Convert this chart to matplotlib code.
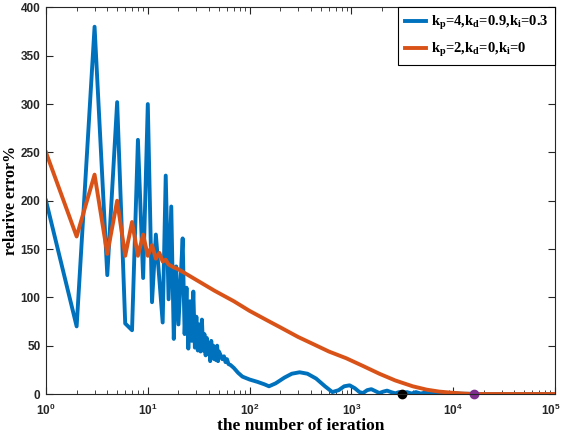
import numpy as np
import matplotlib
matplotlib.use("Agg")
import matplotlib.pyplot as plt
import matplotlib.transforms as mtransforms
from matplotlib.ticker import FixedLocator, LogLocator, NullFormatter

# mathtext: bold serif for legend subscripts, bold sans for tick exponents
plt.rcParams['mathtext.fontset'] = 'custom'
plt.rcParams['mathtext.rm'] = 'Liberation Serif:bold'
plt.rcParams['mathtext.it'] = 'Liberation Serif:bold'
plt.rcParams['mathtext.bf'] = 'Liberation Serif:bold'
plt.rcParams['mathtext.sf'] = 'Liberation Sans:bold'

# relative error, PID gains kp=4, kd=0.9, ki=0.3
blue_n = [1, 2, 3, 4, 5, 6, 7, 8, 9, 10, 11, 12, 13, 14, 15, 16, 17, 18, 19, 20,
          21, 22, 23, 24, 25, 26, 27, 28, 29, 30, 31, 32, 33, 34, 35, 36, 37, 38,
          39, 40, 41, 42, 43, 44, 45, 46, 47, 48, 49, 50, 52, 54, 56, 58, 60,
          62, 65, 70, 77, 85, 100, 120, 140, 155, 180, 220, 260, 310, 370, 450,
          550, 650, 750, 850, 960, 1080, 1200, 1300, 1430, 1570, 1720, 1880,
          2060, 2240, 2450, 2700, 2950, 3200, 3500, 3900, 4300, 4800, 5300,
          5900, 6500, 7200, 8000, 9000, 10000, 12000, 15000, 20000, 100000]
blue_v = [200, 70, 380, 123, 302, 73, 66, 263, 120, 300, 95, 165, 118, 74, 226,
          98, 194, 57, 132, 72, 118, 161, 62, 110, 47, 96, 55, 106, 48, 80, 45,
          72, 44, 77, 45, 62, 40, 58, 42, 52, 34, 55, 38, 50, 36, 48, 35, 50, 34,
          44, 40, 36, 39, 33, 36, 31, 30, 27, 22, 18, 15, 12.5, 10, 8, 11, 17,
          21, 22.5, 21, 16, 8, 2, 4, 8, 9, 6, 2, 1, 4, 5, 3, 1, 2.5, 3.5, 2,
          0.7, 2, 0.5, 2, 0.5, 2, 0.5, 1.5, 0.5, 1.2, 0.5, 1, 0.5, 0.8, 0.3,
          0.2, 0, 0]

# relative error, kp=2, kd=0, ki=0
orange_n = [1, 2, 3, 4, 5, 6, 7, 8, 9, 10, 11, 12, 13, 14, 15, 16, 18, 20, 30,
            45, 70, 100, 150, 200, 300, 415, 600, 890, 1300, 1880, 2700, 4000,
            5500, 7300, 10000, 13000, 16000, 100000]
orange_v = [250, 163, 227, 145, 200, 143, 178, 143, 165, 143, 154, 140, 146, 137,
            139, 134, 131, 129, 118, 107, 96, 86, 76, 69, 59, 52, 44, 37, 29,
            21, 14, 8, 4.5, 2.5, 1.2, 0.4, 0, 0]

# convergence points
conv_n = [3160, 16000]
conv_v = [0, 0]

fig = plt.figure(figsize=(5.63, 4.36), dpi=100)
ax = fig.add_axes([0.0817, 0.0963, 0.9041, 0.8867])

ax.semilogx(blue_n, blue_v, color='#0072BD', linewidth=2.8,
            label=r'k$_\mathrm{p}$=4,k$_\mathrm{d}$=0.9,k$_\mathrm{i}$=0.3')
ax.semilogx(orange_n, orange_v, color='#D95319', linewidth=2.8,
            label=r'k$_\mathrm{p}$=2,k$_\mathrm{d}$=0,k$_\mathrm{i}$=0')
ax.plot(conv_n[0], conv_v[0], 'o', color='black', markersize=6, clip_on=False)
ax.plot(conv_n[1], conv_v[1], 'o', color='#7E2F8E', markersize=6, clip_on=False)

ax.set_xlim(1, 1e5)
ax.set_ylim(0, 400)
ax.yaxis.set_major_locator(FixedLocator(range(0, 401, 50)))
ax.xaxis.set_major_locator(FixedLocator([1, 10, 100, 1e3, 1e4, 1e5]))
ax.xaxis.set_minor_locator(LogLocator(base=10, subs=np.arange(2, 10), numticks=20))
ax.xaxis.set_minor_formatter(NullFormatter())
ax.set_xticklabels([r'$\mathsf{10^{%d}}$' % k for k in range(6)])

ax.tick_params(which='both', direction='in', top=True, right=True,
               colors='#262626', labelsize=8.5)
ax.tick_params(which='major', length=5, width=0.8)
ax.tick_params(which='minor', length=3, width=0.6)
ax.tick_params(axis='y', pad=4)
ax.tick_params(axis='x', pad=6)
for lab in ax.get_yticklabels():
    lab.set_fontfamily('Liberation Sans')
    lab.set_fontweight('bold')
for sp in ax.spines.values():
    sp.set_color('#262626')
    sp.set_linewidth(0.8)

# pull the last x tick label in so it stays on the canvas
last = ax.get_xticklabels()[-1]
last.set_transform(last.get_transform() +
                   mtransforms.ScaledTranslation(-4 / 100, 0, fig.dpi_scale_trans))

ax.set_xlabel('the number of ieration', family='Liberation Serif',
              fontweight='bold', fontsize=12.5, labelpad=0)
ax.set_ylabel('relarive error%', family='Liberation Serif',
              fontweight='bold', fontsize=11.5, labelpad=1)

leg = ax.legend(loc='upper right', borderaxespad=0, fancybox=False,
                framealpha=1, edgecolor='black', handlelength=1.5,
                handletextpad=0.3, borderpad=0.45, labelspacing=0.6,
                prop={'family': 'Liberation Serif', 'weight': 'bold', 'size': 10.5})
leg.get_frame().set_linewidth(0.8)

fig.savefig('out.png', dpi=100)
